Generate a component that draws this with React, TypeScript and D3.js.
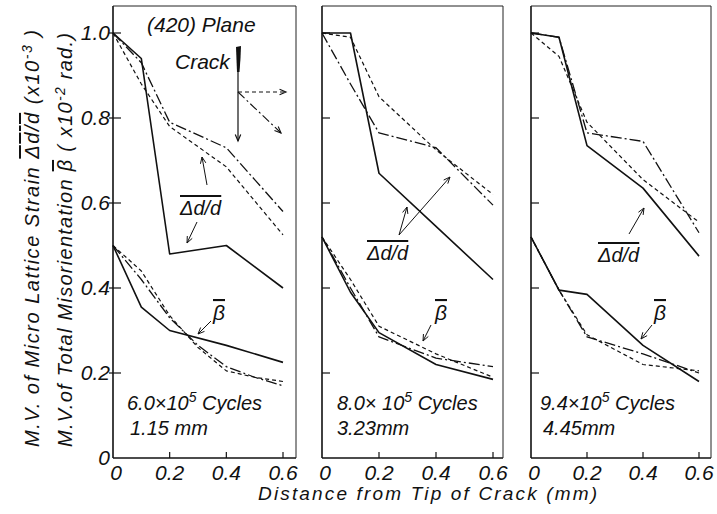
import React from 'react';
import * as d3 from 'd3';

// ---------- data ----------
const X5 = [0, 0.1, 0.2, 0.4, 0.6];
const X7 = [0, 0.1, 0.2, 0.3, 0.4, 0.5, 0.6];

// Panel 1: 6.0x10^5 cycles, 1.15 mm
const p1StrainSolid = [1.0, 0.94, 0.48, 0.5, 0.4];
const p1StrainDashDot = [1.0, 0.93, 0.79, 0.73, 0.58];
const p1StrainDashed = [1.0, 0.88, 0.78, 0.685, 0.525];
const p1BetaSolid = [0.5, 0.355, 0.3, 0.265, 0.225];
const p1BetaDashDot = [0.5, 0.42, 0.33, 0.265, 0.215, 0.19, 0.17];
const p1BetaDashed = [0.5, 0.44, 0.335, 0.26, 0.205, 0.19, 0.18];

// Panel 2: 8.0x10^5 cycles, 3.23 mm
const p2StrainSolid = [1.0, 1.0, 0.67, 0.545, 0.42];
const p2StrainDashDot = [1.0, 0.88, 0.765, 0.73, 0.595];
const p2StrainDashed = [1.0, 0.99, 0.85, 0.725, 0.62];
const p2BetaSolid = [0.52, 0.39, 0.295, 0.22, 0.185];
const p2BetaDashDot = [0.52, 0.4, 0.285, 0.235, 0.215];
const p2BetaDashed = [0.52, 0.42, 0.31, 0.245, 0.19];

// Panel 3: 9.4x10^5 cycles, 4.45 mm
const p3StrainSolid = [1.0, 0.99, 0.735, 0.635, 0.475];
const p3StrainDashDot = [1.0, 0.99, 0.765, 0.745, 0.53];
const p3StrainDashed = [1.0, 0.945, 0.79, 0.655, 0.555];
const p3BetaSolid = [0.52, 0.395, 0.385, 0.265, 0.18];
const p3BetaDashDot = [0.52, 0.395, 0.285, 0.245, 0.2];
const p3BetaDashed = [0.52, 0.395, 0.29, 0.22, 0.205];

const Y_TICKS = [0, 0.2, 0.4, 0.6, 0.8, 1.0];
const Y_TICK_LABELS = ['0', '0.2', '0.4', '0.6', '0.8', '1.0'];
const X_TICKS = [0, 0.2, 0.4, 0.6];
const X_TICK_LABELS = ['0', '0.2', '0.4', '0.6'];

const CYCLES = ['6.0×10', '8.0× 10', '9.4×10'];
const CYCLE_EXP = ['5', '5', '5'];
const CRACK_LEN = ['1.15 mm', '3.23mm', '4.45mm'];

// ---------- layout ----------
const W = 717;
const H = 514;
const FONT = '"Liberation Sans", Arial, sans-serif';
const PANEL_LEFT = [113, 322, 531];
const PANEL_RIGHT = [296, 503, 711];
const PANEL_X06 = [283, 493, 699];
const TOP = 6;

const y = d3.scaleLinear().domain([0, 1]).range([458, 33]);

type Style = { dash: string | null; width: number };
const SOLID: Style = { dash: null, width: 1.6 };
const DASHDOT: Style = { dash: '11,3,2,3', width: 1.3 };
const DASHED: Style = { dash: '4,3', width: 1.2 };

const panels = [
  {
    series: [
      { xs: X5, ys: p1StrainSolid, s: SOLID },
      { xs: X5, ys: p1StrainDashDot, s: DASHDOT },
      { xs: X5, ys: p1StrainDashed, s: DASHED },
      { xs: X5, ys: p1BetaSolid, s: SOLID },
      { xs: X7, ys: p1BetaDashDot, s: DASHDOT },
      { xs: X7, ys: p1BetaDashed, s: DASHED },
    ],
  },
  {
    series: [
      { xs: X5, ys: p2StrainSolid, s: SOLID },
      { xs: X5, ys: p2StrainDashDot, s: DASHDOT },
      { xs: X5, ys: p2StrainDashed, s: DASHED },
      { xs: X5, ys: p2BetaSolid, s: SOLID },
      { xs: X5, ys: p2BetaDashDot, s: DASHDOT },
      { xs: X5, ys: p2BetaDashed, s: DASHED },
    ],
  },
  {
    series: [
      { xs: X5, ys: p3StrainSolid, s: SOLID },
      { xs: X5, ys: p3StrainDashDot, s: DASHDOT },
      { xs: X5, ys: p3StrainDashed, s: DASHED },
      { xs: X5, ys: p3BetaSolid, s: SOLID },
      { xs: X5, ys: p3BetaDashDot, s: DASHDOT },
      { xs: X5, ys: p3BetaDashed, s: DASHED },
    ],
  },
];

function Arrow({ x1, y1, x2, y2, dash, width = 1 }: any) {
  const a = Math.atan2(y2 - y1, x2 - x1);
  const L = 7;
  const sp = 0.4;
  const h1 = [x2 - L * Math.cos(a - sp), y2 - L * Math.sin(a - sp)];
  const h2 = [x2 - L * Math.cos(a + sp), y2 - L * Math.sin(a + sp)];
  return (
    <g stroke="#111" fill="none" strokeWidth={width}>
      <line x1={x1} y1={y1} x2={x2} y2={y2} strokeDasharray={dash || undefined} />
      <polyline points={`${h1[0]},${h1[1]} ${x2},${y2} ${h2[0]},${h2[1]}`} />
    </g>
  );
}

const txt: any = { fontFamily: FONT, fontStyle: 'italic', fill: '#111' };

export default function App() {
  return (
    <svg
      width={W}
      height={H}
      viewBox={`0 0 ${W} ${H}`}
      style={{ position: 'absolute', left: 0, top: 0, background: '#fff' }}
    >
      <rect x={0} y={0} width={W} height={H} fill="#fff" />
      {panels.map((p, i) => {
        const x = d3.scaleLinear().domain([0, 0.6]).range([PANEL_LEFT[i], PANEL_X06[i]]);
        const line = d3
          .line<[number, number]>()
          .x((d) => x(d[0]))
          .y((d) => y(d[1]));
        return (
          <g key={i}>
            {/* frame */}
            <line x1={PANEL_LEFT[i]} x2={PANEL_LEFT[i]} y1={TOP} y2={y(0)} stroke="#111" strokeWidth={1.6} />
            <line x1={PANEL_LEFT[i]} x2={PANEL_RIGHT[i]} y1={y(0)} y2={y(0)} stroke="#111" strokeWidth={1.4} />
            <line x1={PANEL_RIGHT[i]} x2={PANEL_RIGHT[i]} y1={TOP} y2={y(0)} stroke="#222" strokeWidth={1} />
            <line x1={PANEL_LEFT[i]} x2={PANEL_RIGHT[i]} y1={TOP} y2={TOP} stroke="#222" strokeWidth={1} />
            {/* y ticks */}
            {Y_TICKS.filter((t) => t > 0).map((t) => (
              <line key={t} x1={PANEL_LEFT[i] - (i === 0 ? 4 : 0)} x2={PANEL_LEFT[i] + 8} y1={y(t)} y2={y(t)} stroke="#111" strokeWidth={1.2} />
            ))}
            {/* x ticks */}
            {X_TICKS.filter((t) => t > 0).map((t) => (
              <line key={t} x1={x(t)} x2={x(t)} y1={y(0)} y2={y(0) - 6} stroke="#111" strokeWidth={1.2} />
            ))}
            {X_TICKS.map((t, k) => (
              <text key={t} x={x(t) + (t === 0 ? 3 : 0)} y={y(0) + 22} textAnchor="middle" fontSize={21} {...txt}>
                {X_TICK_LABELS[k]}
              </text>
            ))}
            {/* series */}
            {p.series.map((s, k) => (
              <path
                key={k}
                d={line(s.xs.map((xx, j) => [xx, s.ys[j]] as [number, number])) || ''}
                fill="none"
                stroke="#111"
                strokeWidth={s.s.width}
                strokeDasharray={s.s.dash || undefined}
                strokeLinejoin="round"
              />
            ))}
            {/* cycles annotation */}
            <text x={PANEL_LEFT[i] + (i === 0 ? 14 : i === 1 ? 15 : 9)} y={410} fontSize={20} {...txt}>
              {CYCLES[i]}
              <tspan dy={-8} fontSize={14}>{CYCLE_EXP[i]}</tspan>
              <tspan dy={8}> Cycles</tspan>
            </text>
            <text x={PANEL_LEFT[i] + (i === 0 ? 17 : i === 1 ? 15 : 12)} y={435} fontSize={20} {...txt}>
              {CRACK_LEN[i]}
            </text>
          </g>
        );
      })}

      {/* y tick labels */}
      {Y_TICKS.map((t, k) => (
        <text key={t} x={110} y={y(t) + 7} textAnchor="end" fontSize={21} {...txt}>
          {Y_TICK_LABELS[k]}
        </text>
      ))}

      {/* panel 1 annotations */}
      <text x={147} y={32} fontSize={21} {...txt}>(420) Plane</text>
      <text x={175} y={69} fontSize={21} {...txt}>Crack</text>
      <polygon points="236,47 241,46 240.5,58 239.5,72 237,72 236.5,60" fill="#111" />
      <Arrow x1={238} y1={60} x2={238} y2={141} width={1.2} />
      <Arrow x1={238} y1={92} x2={286} y2={92} dash="4,3" width={1.1} />
      <Arrow x1={238} y1={92} x2={281} y2={133} dash="9,3,2,3" width={1.1} />

      <text x={180} y={215} fontSize={20} {...txt} style={{ textDecoration: 'overline' }}>Δd/d</text>
      <Arrow x1={207} y1={185} x2={202} y2={157} />
      <Arrow x1={197} y1={222} x2={187} y2={243} />
      <text x={213} y={320} fontSize={21} {...txt} style={{ textDecoration: 'overline' }}>β</text>
      <Arrow x1={211} y1={321} x2={198} y2={334} />

      {/* panel 2 annotations */}
      <text x={367} y={260} fontSize={20} {...txt} style={{ textDecoration: 'overline' }}>Δd/d</text>
      <Arrow x1={399} y1={235} x2={407} y2={207} />
      <Arrow x1={399} y1={235} x2={450} y2={177} />
      <text x={435} y={320} fontSize={21} {...txt} style={{ textDecoration: 'overline' }}>β</text>
      <Arrow x1={431} y1={325} x2={423} y2={341} />

      {/* panel 3 annotations */}
      <text x={598} y={262} fontSize={20} {...txt} style={{ textDecoration: 'overline' }}>Δd/d</text>
      <Arrow x1={629} y1={234} x2={644} y2={208} />
      <text x={654} y={320} fontSize={21} {...txt} style={{ textDecoration: 'overline' }}>β</text>
      <Arrow x1={652} y1={325} x2={641} y2={339} />

      {/* axis titles */}
      <text x={258} y={500} fontSize={19} textLength={339} lengthAdjust="spacing" {...txt}>
        Distance from  Tip of Crack (mm)
      </text>
      <text transform="translate(39,447) rotate(-90)" fontSize={20} textLength={417} lengthAdjust="spacing" {...txt}>
        M.V. of Micro Lattice Strain <tspan style={{ textDecoration: 'overline' }}>Δd/d</tspan> (x10
        <tspan dy={-7} fontSize={14}>-3</tspan>
        <tspan dy={7}> )</tspan>
      </text>
      <text transform="translate(72,447) rotate(-90)" fontSize={20} textLength={414} lengthAdjust="spacing" {...txt}>
        M.V.of Total Misorientation <tspan style={{ textDecoration: 'overline' }}>β</tspan> ( x10
        <tspan dy={-7} fontSize={14}>-2</tspan>
        <tspan dy={7}> rad.)</tspan>
      </text>
    </svg>
  );
}
